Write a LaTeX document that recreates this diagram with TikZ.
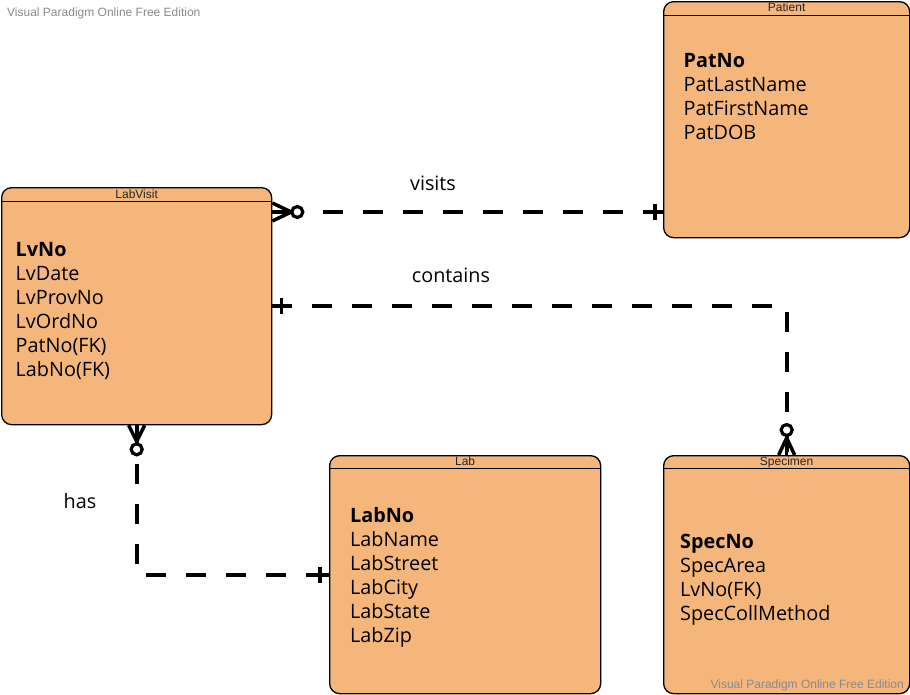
\documentclass[tikz,border=0pt]{standalone}
\usepackage{fontspec}
\setmainfont{Open Sans}
\newfontfamily\arialf{Liberation Sans}
\usetikzlibrary{calc}
\definecolor{entfill}{HTML}{F4B67B}
\definecolor{wmgray}{HTML}{8A8A8A}
\begin{document}
\begin{tikzpicture}[x=1pt,y=-1pt,
  entity/.style={draw=black, line width=1.3pt, fill=entfill, rounded corners=10pt, inner sep=0pt, anchor=north west},
  hdrline/.style={line width=1pt, draw=black},
  hdr/.style={font=\arialf\fontsize{12}{14}\selectfont, inner sep=0pt, anchor=base, text=black!85},
  attr/.style={font=\fontsize{19.8}{24}\selectfont, inner sep=0pt, anchor=base west},
  rel/.style={line width=4pt, dash pattern=on 20pt off 20pt, draw=black},
  ermark/.style={line width=3.5pt, draw=black},
  ercircle/.style={draw=black, fill=white, line width=3.2pt, circle, inner sep=0pt, minimum size=11pt},
  lbl/.style={font=\fontsize{19.8}{24}\selectfont, inner sep=0pt, anchor=base},
  wm/.style={font=\arialf\fontsize{12}{14}\selectfont, text=wmgray, inner sep=0pt}
]
\fill[white] (0,0) rectangle (910,694);
\useasboundingbox (0,0) rectangle (910,694);

% entities
\node[entity, minimum width=246pt, minimum height=236pt] (patient) at (663,1) {};
\node[entity, minimum width=270pt, minimum height=237pt] (labvisit) at (1,187) {};
\node[entity, minimum width=271pt, minimum height=238pt] (lab) at (329,455) {};
\node[entity, minimum width=246pt, minimum height=238pt] (specimen) at (663,455) {};

% header lines
\draw[hdrline] ([yshift=-14pt]patient.north west) -- ([yshift=-14pt]patient.north east);
\draw[hdrline] ([yshift=-14pt]labvisit.north west) -- ([yshift=-14pt]labvisit.north east);
\draw[hdrline] ([yshift=-13pt]lab.north west) -- ([yshift=-13pt]lab.north east);
\draw[hdrline] ([yshift=-13pt]specimen.north west) -- ([yshift=-13pt]specimen.north east);

% header titles
\node[hdr] (patientT) at ([yshift=-10pt]patient.north) {Patient};
\node[hdr] (labvisitT) at ([yshift=-11pt]labvisit.north) {LabVisit};
\node[hdr] (labT) at ([yshift=-10pt]lab.north) {Lab};
\node[hdr] (specimenT) at ([yshift=-10pt]specimen.north) {Specimen};

% attributes
\foreach \t [count=\i from 0] in {\textbf{PatNo},PatLastName,PatFirstName,PatDOB}
  \node[attr] (pat\i) at ($(patient.north west)+(20.5,66+24*\i)$) {\t};
\foreach \t [count=\i from 0] in {\textbf{LvNo},LvDate,LvProvNo,LvOrdNo,PatNo(FK),LabNo(FK)}
  \node[attr] (lv\i) at ($(labvisit.north west)+(14.5,69+24*\i)$) {\t};
\foreach \t [count=\i from 0] in {\textbf{LabNo},LabName,LabStreet,LabCity,LabState,LabZip}
  \node[attr] (lb\i) at ($(lab.north west)+(21,67+24*\i)$) {\t};
\foreach \t [count=\i from 0] in {\textbf{SpecNo},SpecArea,LvNo(FK),SpecCollMethod}
  \node[attr] (sp\i) at ($(specimen.north west)+(17,93+24*\i)$) {\t};

% relationship: visits
\coordinate (vstart) at ([yshift=-25pt]labvisit.north east);
\coordinate (vend) at (vstart -| patient.west);
\draw[rel, dash phase=29pt] (vstart) -- (vend);
\draw[ermark] ($(vstart)+(0,-9)$) -- ($(vstart)+(19,0)$) -- ($(vstart)+(0,9)$);
\draw[ermark] (vstart) -- ($(vstart)+(19,0)$);
\node[ercircle] (vcirc) at ($(vstart)+(25,0)$) {};
\draw[ermark] ($(vend)+(-8,-8)$) -- ($(vend)+(-8,8)$);

% relationship: contains
\draw[rel, dash phase=0pt] (labvisit.east) -| (specimen.north);
\draw[ermark] ($(labvisit.east)+(9,-8)$) -- ($(labvisit.east)+(9,8)$);
\draw[ermark] ($(specimen.north)+(-8,0)$) -- ($(specimen.north)+(0,-17)$) -- ($(specimen.north)+(8,0)$);
\draw[ermark] (specimen.north) -- ($(specimen.north)+(0,-17)$);
\node[ercircle] (ccirc) at ($(specimen.north)+(0,-25)$) {};

% relationship: has
\draw[rel, dash phase=1pt] (labvisit.south) |- (lab.west);
\draw[line width=4pt] (lab.west) -- ++(-20,0);
\draw[ermark] ($(lab.west)+(-9,-8)$) -- ($(lab.west)+(-9,8)$);
\draw[ermark] ($(labvisit.south)+(-8,0)$) -- ($(labvisit.south)+(0,16)$) -- ($(labvisit.south)+(8,0)$);
\draw[ermark] (labvisit.south) -- ($(labvisit.south)+(0,16)$);
\node[ercircle] (hcirc) at ($(labvisit.south)+(0,24)$) {};

% labels
\node[lbl] (visitsL) at (433,190) {visits};
\node[lbl] (containsL) at (451,282) {contains};
\node[lbl] (hasL) at (80,508) {has};

% watermarks
\node[wm, anchor=base west] (wm1) at (7,16) {Visual Paradigm Online Free Edition};
\node[wm, anchor=base east] (wm2) at (904,688) {Visual Paradigm Online Free Edition};
\end{tikzpicture}
\end{document}
